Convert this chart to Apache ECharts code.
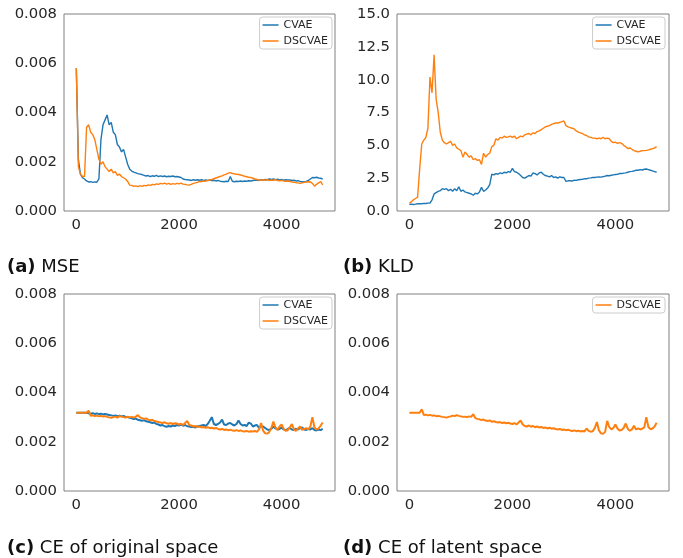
<!DOCTYPE html>
<html><head><meta charset="utf-8">
<script src="https://cdn.jsdelivr.net/npm/echarts@6/dist/echarts.min.js"></script>
<style>html,body{margin:0;padding:0;background:#fff}#c{width:683px;height:558px}</style>
</head><body><div id="c"></div>
<script>
const steps = [0,40,80,120,160,200,240,280,320,360,
400,440,480,520,560,600,640,680,720,760,
800,840,880,920,960,1000,1040,1080,1120,1160,
1200,1240,1280,1320,1360,1400,1440,1480,1520,1560,
1600,1640,1680,1720,1760,1800,1840,1880,1920,1960,
2000,2040,2080,2120,2160,2200,2240,2280,2320,2360,
2400,2440,2480,2520,2560,2600,2640,2680,2720,2760,
2800,2840,2880,2920,2960,3000,3040,3080,3120,3160,
3200,3240,3280,3320,3360,3400,3440,3480,3520,3560,
3600,3640,3680,3720,3760,3800,3840,3880,3920,3960,
4000,4040,4080,4120,4160,4200,4240,4280,4320,4360,
4400,4440,4480,4520,4560,4600,4640,4680,4720,4760,
4800];

const mseCVAE = [.0058,.0021,.0015,.00135,.0013,.00122,.00118,.00119,.00116,.00118,
.00117,.0013,.0029,.0035,.0037,.0039,.0035,.0036,.0032,.0031,
.0027,.0026,.0024,.0025,.0022,.0019,.0017,.00162,.00158,.00155,
.00152,.0015,.00148,.00145,.00142,.00144,.0014,.00143,.00141,.00145,
.0014,.00143,.0014,.00142,.00139,.00141,.0014,.00142,.00139,.0014,
.00138,.00136,.0013,.00128,.00127,.00126,.00124,.00127,.00125,.00127,
.00125,.00127,.00124,.00126,.00124,.00126,.00123,.00125,.00122,.00124,
.00121,.0012,.00119,.00121,.0012,.0014,.00121,.00119,.00121,.0012,
.00122,.0012,.00122,.00121,.00123,.00122,.00124,.00125,.00126,.00124,
.00127,.00126,.00128,.00127,.0013,.00128,.0013,.00127,.00129,.00126,
.00128,.00125,.00127,.00126,.00126,.00124,.00125,.00122,.00123,.0012,
.00119,.00118,.0012,.00124,.0013,.00136,.00135,.00137,.00134,.00133,
.0013];

const mseDSCVAE = [.0058,.0018,.0015,.0014,.0014,.0034,.0035,.0032,.0031,.0029,
.0025,.0021,.0019,.002,.0018,.0017,.0016,.0017,.00155,.0016,
.00145,.0015,.0014,.00135,.0013,.0012,.00105,.00104,.001,.00102,
.00099,.00103,.001,.00104,.00102,.00106,.00104,.00108,.00106,.0011,
.00108,.00112,.0011,.00113,.00109,.00112,.00108,.00111,.00109,.00112,
.0011,.00113,.00109,.00108,.00106,.00105,.00108,.00112,.00114,.00116,
.0012,.00119,.00122,.00121,.00124,.00126,.00128,.00131,.00134,.00137,
.0014,.00143,.00147,.0015,.00154,.00156,.00152,.00151,.00149,.00148,
.00146,.00144,.00141,.00139,.00137,.00136,.00133,.0013,.00128,.00126,
.00125,.00127,.00125,.00127,.00124,.00126,.00125,.00127,.00124,.00123,
.00125,.00122,.00121,.00122,.0012,.00118,.00117,.00115,.00114,.00112,
.00114,.00116,.00118,.00119,.00118,.00112,.00101,.00108,.00114,.00119,
.00106];

const kldCVAE = [.5,.52,.5,.52,.55,.56,.55,.58,.57,.6,
.6,.85,1.3,1.4,1.5,1.55,1.7,1.65,1.7,1.55,
1.65,1.5,1.7,1.55,1.85,1.5,1.6,1.45,1.4,1.35,
1.3,1.2,1.35,1.3,1.45,1.8,1.5,1.6,1.75,2.0,
2.8,2.75,2.85,2.8,2.9,2.85,2.95,2.9,3.0,2.95,
3.25,3.0,2.95,2.85,2.7,2.55,2.5,2.6,2.7,2.65,
2.9,2.85,2.75,2.9,2.95,2.8,2.7,2.65,2.6,2.7,
2.55,2.6,2.5,2.6,2.55,2.55,2.25,2.3,2.3,2.28,
2.35,2.33,2.38,2.4,2.42,2.45,2.45,2.5,2.52,2.55,
2.55,2.58,2.6,2.58,2.62,2.65,2.7,2.68,2.72,2.75,
2.78,2.8,2.85,2.85,2.88,2.9,2.95,3.0,3.02,3.05,
3.1,3.1,3.15,3.12,3.18,3.2,3.15,3.1,3.05,3.0,
2.95];

const kldDSCVAE = [.6,.7,.85,.95,1.05,3.2,5.1,5.4,5.6,6.3,
10.2,9.0,11.9,8.5,7.5,6.0,5.4,5.2,5.1,5.2,
5.3,5.0,5.1,4.8,4.7,4.6,4.1,4.5,4.3,4.1,
4.2,3.9,4.0,3.85,3.9,3.55,4.4,4.1,4.3,4.4,
4.9,5.0,5.5,5.4,5.6,5.55,5.7,5.6,5.65,5.7,
5.6,5.7,5.5,5.6,5.7,5.65,5.8,5.85,5.9,5.8,
5.95,5.9,6.05,6.1,6.2,6.3,6.4,6.45,6.5,6.6,
6.65,6.7,6.7,6.75,6.8,6.85,6.5,6.4,6.35,6.3,
6.25,6.1,6.0,5.95,5.9,5.8,5.75,5.65,5.6,5.55,
5.55,5.5,5.55,5.5,5.6,5.5,5.55,5.5,5.3,5.2,
5.25,5.15,5.2,5.15,5.0,4.9,4.75,4.8,4.7,4.6,
4.55,4.5,4.55,4.6,4.6,4.62,4.65,4.7,4.75,4.8,
4.9];

const ceOrigCVAE = [.00318,.00318,.00318,.00318,.00318,.00318,.00316,.00314,.00316,.00313,
.00315,.00312,.00314,.00311,.00313,.00311,.00309,.00307,.00305,.00307,
.00304,.00306,.00303,.00305,.00301,.003,.00297,.00295,.00292,.00294,
.00289,.00287,.00285,.00288,.00283,.00281,.00279,.00276,.00278,.00272,
.0027,.00266,.00268,.00263,.00261,.00264,.00262,.00266,.00264,.00268,
.00266,.0027,.00265,.00268,.00263,.00262,.0026,.00261,.00258,.00262,
.00264,.00266,.00268,.00264,.00272,.00285,.003,.00272,.00268,.00272,
.00278,.0029,.0027,.00268,.00274,.00276,.0027,.00266,.00272,.00286,
.00272,.00266,.00268,.00264,.00278,.00274,.00262,.00266,.00268,.00256,
.00262,.00262,.00256,.0025,.00248,.00252,.00262,.00254,.0025,.00252,
.00258,.0025,.00246,.00252,.00256,.0025,.00248,.00252,.0025,.00255,
.00258,.0025,.00248,.00252,.0025,.00255,.00248,.00246,.0025,.00247,
.00252];

const ceOrigDSCVAE = [.00318,.00318,.00318,.00318,.00318,.00318,.00326,.00305,.00307,.00304,
.00306,.00303,.00305,.00302,.00304,.00301,.00299,.00297,.003,.00302,
.00298,.00304,.00302,.003,.00298,.00302,.00299,.00301,.00298,.00302,
.00308,.00299,.00296,.00293,.00295,.0029,.00287,.00289,.00284,.00282,
.0028,.00278,.00276,.00279,.00275,.00273,.00276,.00272,.00275,.00274,
.0027,.00273,.00268,.00276,.00284,.00268,.00266,.00262,.00264,.0026,
.00262,.00258,.0026,.00257,.00259,.00255,.00257,.00254,.00256,.00252,
.0025,.00252,.00248,.0025,.00247,.00249,.00246,.00245,.00247,.00244,
.00246,.00243,.00242,.00244,.00241,.00243,.00242,.00244,.0024,.0025,
.00276,.00245,.00234,.00233,.0024,.00256,.00282,.00258,.00248,.00262,
.0027,.00252,.00245,.00247,.00258,.00272,.0025,.00244,.00254,.00262,
.00248,.00252,.00255,.0025,.00262,.003,.00258,.0025,.00254,.00265,
.00278];

const ceLatentDSCVAE = [.00318,.00318,.00318,.00318,.00318,.00318,.00332,.00309,.0031,.00307,
.00309,.00306,.00307,.00304,.00305,.00303,.00301,.003,.00298,.00301,
.00303,.00306,.00304,.00308,.00305,.00303,.00301,.00302,.003,.00303,
.00301,.00312,.00296,.00293,.00291,.00288,.0029,.00286,.00284,.00287,
.00281,.00283,.0028,.00278,.0028,.00276,.00278,.00275,.00277,.00274,
.00272,.00276,.0027,.00278,.00286,.0027,.00264,.00262,.00266,.00261,
.00264,.00259,.00262,.00258,.0026,.00256,.00258,.00254,.00257,.00253,
.00255,.00252,.0025,.00252,.00248,.0025,.00247,.00249,.00246,.00244,
.00246,.00243,.00245,.00242,.00244,.00242,.00254,.00244,.00241,.00243,
.00256,.0028,.00246,.00234,.00232,.0024,.00285,.0026,.0025,.00256,
.0027,.00254,.00246,.00248,.00256,.00274,.00252,.00245,.0025,.00265,
.0025,.00254,.0025,.00253,.00258,.003,.0026,.00251,.00254,.00262,
.00277];

const xTicks = [0, 2000, 4000];
const captions = [['(a)', 'MSE'], ['(b)', 'KLD'], ['(c)', 'CE of original space'], ['(d)', 'CE of latent space']];

const BLUE = '#1f77b4', ORANGE = '#ff7f0e';
const FONT = 'DejaVu Sans';
const TICK = '#262626';

const grids = [
  {left: 64, top: 14, width: 271, height: 197},
  {left: 397, top: 14, width: 272, height: 197},
  {left: 64, top: 294, width: 271, height: 197},
  {left: 397, top: 294, width: 272, height: 197}
];
const capPos = [[7, 258], [343, 258], [7, 539], [343, 539]];
const yCfg = [
  {max: 0.008, interval: 0.002, dec: 3},
  {max: 15, interval: 2.5, dec: 1},
  {max: 0.008, interval: 0.002, dec: 3},
  {max: 0.008, interval: 0.002, dec: 3}
];
const lineW = [1.4, 1.4, 2.0, 2.0];

const pair = arr => steps.map((x, i) => [x, arr[i]]);
const mkSeries = (name, arr, color, idx) => ({
  name, type: 'line', data: pair(arr), xAxisIndex: idx, yAxisIndex: idx,
  showSymbol: false, symbol: 'none', animation: false,
  lineStyle: {color, width: lineW[idx]}, itemStyle: {color}
});

const legendBase = {
  orient: 'vertical', icon: 'rect', itemWidth: 16, itemHeight: 1.5, itemGap: 3,
  padding: [1.5, 4, 1.5, 3], borderColor: '#cccccc', borderWidth: 1, borderRadius: 3,
  backgroundColor: 'rgba(255,255,255,0.8)',
  textStyle: {fontFamily: FONT, fontSize: 11, color: '#262626', lineHeight: 13}
};

const option = {
  backgroundColor: '#fff',
  animation: false,
  title: captions.map((c, i) => ({
    text: '{b|' + c[0] + '} ' + c[1],
    left: capPos[i][0], top: capPos[i][1], padding: 0,
    textStyle: {fontFamily: FONT, fontSize: 18, fontWeight: 'normal', color: '#111',
      rich: {b: {fontFamily: FONT, fontSize: 18, fontWeight: 'bold', color: '#111'}}}
  })),
  grid: grids.map(g => Object.assign({show: true, borderColor: '#808080', borderWidth: 1, backgroundColor: 'transparent'}, g)),
  xAxis: grids.map((g, i) => ({
    type: 'value', gridIndex: i, min: -240, max: 5040,
    axisLine: {show: false}, axisTick: {show: false}, splitLine: {show: false},
    axisLabel: {customValues: xTicks, margin: 7, fontFamily: FONT, fontSize: 14.8, color: TICK,
      formatter: v => String(v)}
  })),
  yAxis: yCfg.map((y, i) => ({
    type: 'value', gridIndex: i, min: 0, max: y.max, interval: y.interval,
    axisLine: {show: false}, axisTick: {show: false}, splitLine: {show: false},
    axisLabel: {margin: 7, fontFamily: FONT, fontSize: 14.8, color: TICK,
      formatter: v => v.toFixed(y.dec)}
  })),
  legend: [
    Object.assign({}, legendBase, {data: ['CVAE', 'DSCVAE'], right: 351, top: 17}),
    Object.assign({}, legendBase, {data: ['CVAE', 'DSCVAE'], right: 18, top: 17}),
    Object.assign({}, legendBase, {data: ['CVAE', 'DSCVAE'], right: 351, top: 297}),
    Object.assign({}, legendBase, {data: ['DSCVAE'], right: 18, top: 297})
  ],
  series: [
    mkSeries('CVAE', mseCVAE, BLUE, 0),
    mkSeries('DSCVAE', mseDSCVAE, ORANGE, 0),
    mkSeries('CVAE', kldCVAE, BLUE, 1),
    mkSeries('DSCVAE', kldDSCVAE, ORANGE, 1),
    mkSeries('CVAE', ceOrigCVAE, BLUE, 2),
    mkSeries('DSCVAE', ceOrigDSCVAE, ORANGE, 2),
    mkSeries('DSCVAE', ceLatentDSCVAE, ORANGE, 3)
  ]
};
const chart = echarts.init(document.getElementById('c'), null, {renderer: 'canvas'});
chart.setOption(option);
</script>
</body></html>
